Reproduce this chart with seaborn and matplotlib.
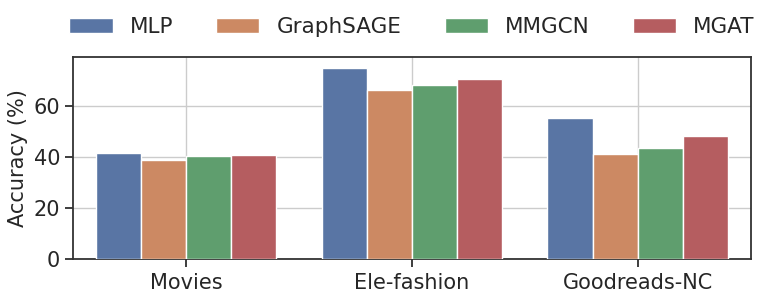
import pandas as pd
import matplotlib.pyplot as plt
import seaborn as sns

datasets = ["Movies", "Ele-fashion", "Goodreads-NC"]
models = ["MLP", "GraphSAGE", "MMGCN", "MGAT"]
mlp = [41.6, 74.9, 55.3]
graphsage = [38.8, 66.3, 41.3]
mmgcn = [40.5, 68.2, 43.4]
mgat = [40.9, 70.6, 48.2]

df = pd.DataFrame({"Dataset": datasets, "MLP": mlp, "GraphSAGE": graphsage,
                   "MMGCN": mmgcn, "MGAT": mgat})
df = df.melt(id_vars="Dataset", var_name="Model", value_name="Accuracy")

sns.set_theme(style="whitegrid", palette="deep",
              rc={"axes.edgecolor": ".2", "xtick.bottom": True, "ytick.left": True,
                  "xtick.color": ".15", "ytick.color": ".15"})

fig, ax = plt.subplots(figsize=(7.77, 3.01), dpi=100)
sns.barplot(data=df, x="Dataset", y="Accuracy", hue="Model", hue_order=models,
            order=datasets, ax=ax, zorder=3)

ax.set_ylim(0, 79)
ax.set_yticks([0, 20, 40, 60])
ax.set_xlim(-0.5, 2.5)
ax.xaxis.grid(True)
ax.yaxis.grid(True)
ax.set_axisbelow(True)
ax.set_xlabel("")
ax.set_ylabel("Accuracy (%)", fontsize=15)
ax.tick_params(axis="both", labelsize=15)
for s in ax.spines.values():
    s.set_linewidth(1.3)

ax.legend(loc="center", bbox_to_anchor=(0.5, 1.15), ncol=4, frameon=False,
          fontsize=15.5)

fig.subplots_adjust(left=0.0943, right=0.966, bottom=0.1385, top=0.8096)
plt.savefig("out.png")
plt.close()
